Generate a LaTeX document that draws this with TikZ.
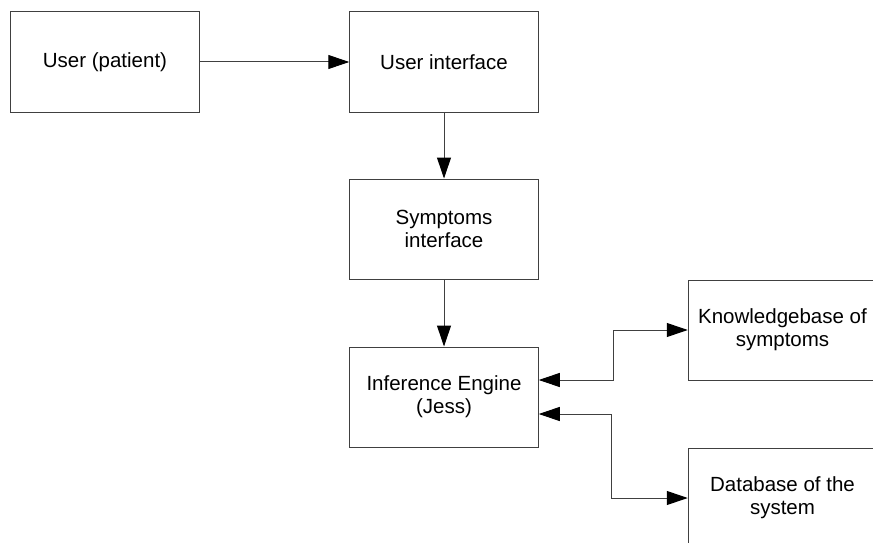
\documentclass[tikz,border=0pt]{standalone}
\usepackage{fontspec}
\setmainfont{Liberation Sans}
\usetikzlibrary{arrows.meta}
\begin{document}
\begin{tikzpicture}[x=1pt,y=-1pt,
  box/.style={draw=black!75, line width=1pt, rectangle, minimum width=188.5pt, minimum height=100pt,
    inner sep=0pt, align=center, font=\fontsize{20.5}{23}\selectfont},
  tip/.style={Triangle[length=21pt,width=14pt,color=black]},
  arr/.style={draw=black!75, line width=1pt, -{Triangle[length=21pt,width=14pt,color=black]}},
  darr/.style={draw=black!75, line width=1pt, {Triangle[length=21pt,width=14pt,color=black]}-{Triangle[length=21pt,width=14pt,color=black]}}]
\useasboundingbox (0,0) rectangle (873,543);
\clip (0,0) rectangle (873,543);
\node[box] (user) at (105,62) {User (patient)};
\node[box] (ui) at (444,62) {User interface};
\node[box] (sym) at (444,229) {Symptoms\\interface};
\node[box] (inf) at (444,397) {Inference Engine\\(Jess)};
\node[box] (kb) at (782.5,330) {Knowledgebase of\\symptoms};
\node[box] (db) at (782.5,498) {Database of the\\system};
\draw[arr] (user) -- (ui);
\draw[arr] (ui) -- (sym);
\draw[arr] (sym) -- (inf);
\draw[darr] ([yshift=17pt]inf.east) -- ++(74.5,0) |- (kb.west);
\draw[darr] ([yshift=-17pt]inf.east) -- ++(72.5,0) |- (db.west);
\end{tikzpicture}
\end{document}
